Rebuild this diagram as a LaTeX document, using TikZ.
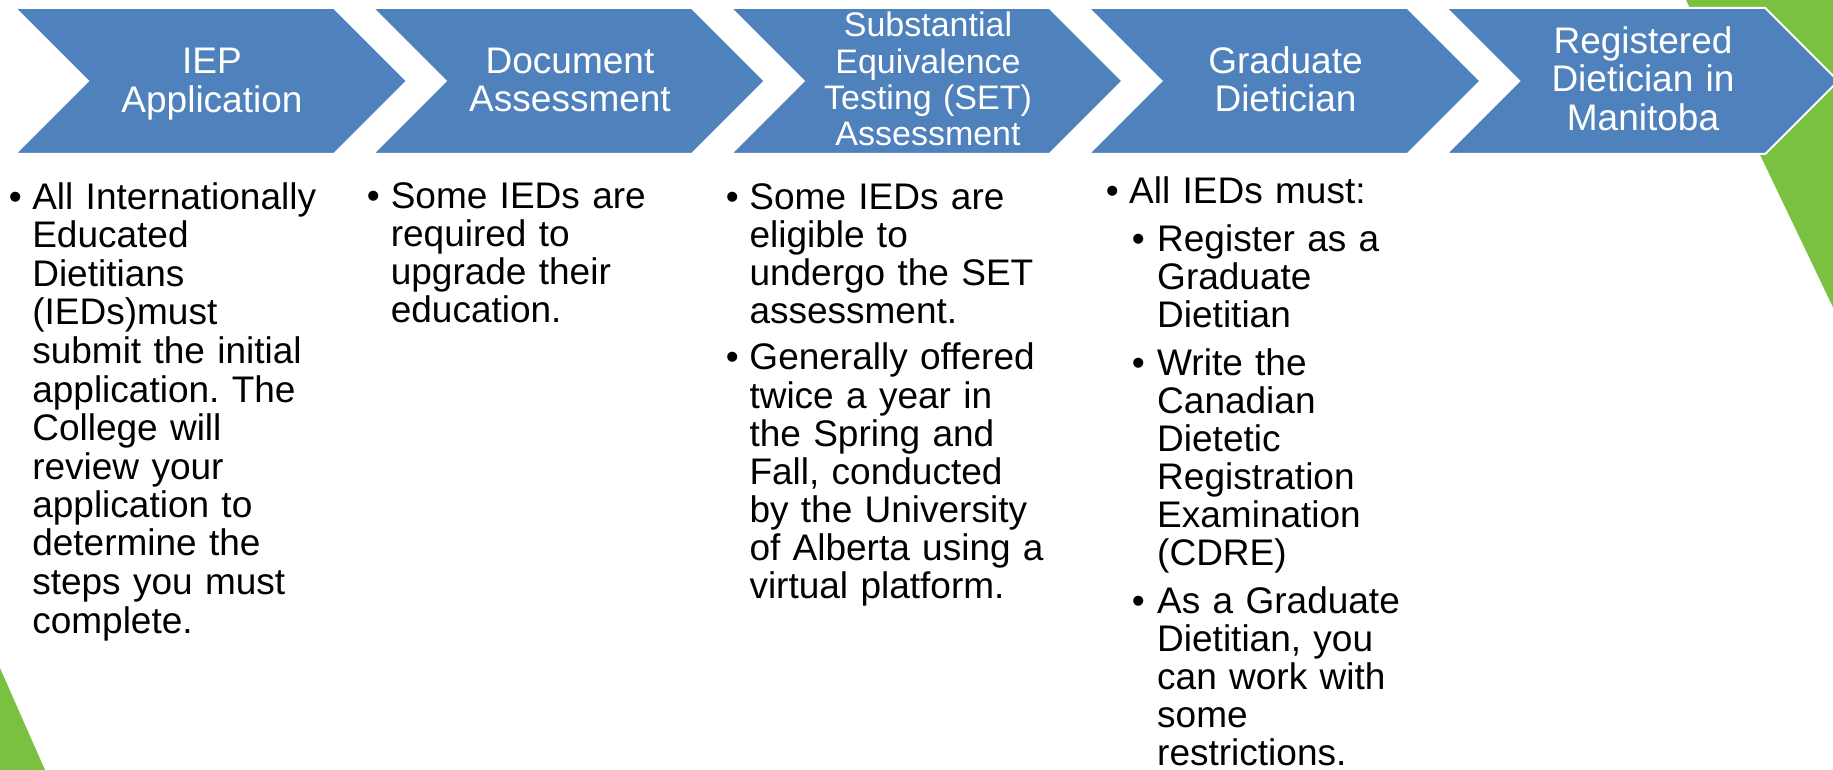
\documentclass[tikz,border=0pt]{standalone}
\usepackage{fontspec}
\setmainfont{Liberation Sans}
\frenchspacing
\definecolor{chevblue}{HTML}{4F81BD}
\definecolor{sidegreen}{HTML}{7AC142}
\newcommand{\bpar}[3]{\leftskip=#1\relax\hangindent=#2\relax\hangafter=1\relax\noindent\makebox[#2][l]{\textbullet}#3\par}
\tikzset{
  chevshape/.style={fill=chevblue, draw=white, line width=2pt, line join=miter},
  chevlabel/.style={text=white, font=\fontsize{37}{38.5}\selectfont, text width=300pt, align=center, inner sep=0pt, anchor=base},
  bodytext/.style={text=black, font=\fontsize{37}{38}\selectfont, text width=400pt, inner sep=0pt, anchor=base west}
}
\begin{document}
\begin{tikzpicture}[x=1pt,y=-1pt]
\useasboundingbox (0,0) rectangle (1833,770);
% green decorations
\fill[sidegreen] (1686,0) -- (1840,0) -- (1840,322) -- cycle;
\fill[sidegreen] (0,668) -- (45,770) -- (0,770) -- cycle;
% chevrons
\foreach \L in {15,372.8,730.6,1088.4,1446.2}{
  \draw[chevshape] (\L,8) -- (\L+319,8) -- (\L+392,81) -- (\L+319,154) -- (\L,154) -- (\L+73,81) -- cycle;
}
% chevron labels
\node[chevlabel] (lab1) at (212,74) {IEP\\Application};
\node[chevlabel] (lab2) at (570,73.3) {Document\\Assessment};
\node[chevlabel, font=\fontsize{34}{36.4}\selectfont] (lab3) at (928,36.7) {Substantial\\Equivalence\\Testing (SET)\\Assessment};
\node[chevlabel] (lab4) at (1285.5,73.3) {Graduate\\Dietician};
\node[chevlabel] (lab5) at (1643,53.3) {Registered\\Dietician in\\Manitoba};
% body columns
\node[bodytext, font=\fontsize{37}{38.5}\selectfont] (col1) at (8.6,209.5) {\setlength{\parskip}{9pt}%
\bpar{0pt}{23.5pt}{All Internationally\newline Educated\newline Dietitians\newline (IEDs)must\newline submit the initial\newline application. The\newline College will\newline review your\newline application to\newline determine the\newline steps you must\newline complete.}};
\node[bodytext] (col2) at (366.6,208.5) {\setlength{\parskip}{9pt}%
\bpar{0pt}{24pt}{Some IEDs are\newline required to\newline upgrade their\newline education.}};
\node[bodytext] (col3) at (725.6,209) {\setlength{\parskip}{9pt}%
\bpar{0pt}{23.7pt}{Some IEDs are\newline eligible to\newline undergo the SET\newline assessment.}%
\bpar{0pt}{23.7pt}{Generally offered\newline twice a year in\newline the Spring and\newline Fall, conducted\newline by the University\newline of Alberta using a\newline virtual platform.}};
\node[bodytext] (col4) at (1105.6,203.5) {\setlength{\parskip}{10pt}%
\bpar{0pt}{23.4pt}{All IEDs must:}%
\bpar{26pt}{25.4pt}{Register as a\newline Graduate\newline Dietitian}%
\bpar{26pt}{25.4pt}{Write the\newline Canadian\newline Dietetic\newline Registration\newline Examination\newline (CDRE)}%
\bpar{26pt}{25.4pt}{As a Graduate\newline Dietitian, you\newline can work with\newline some\newline restrictions.}};
\end{tikzpicture}
\end{document}
